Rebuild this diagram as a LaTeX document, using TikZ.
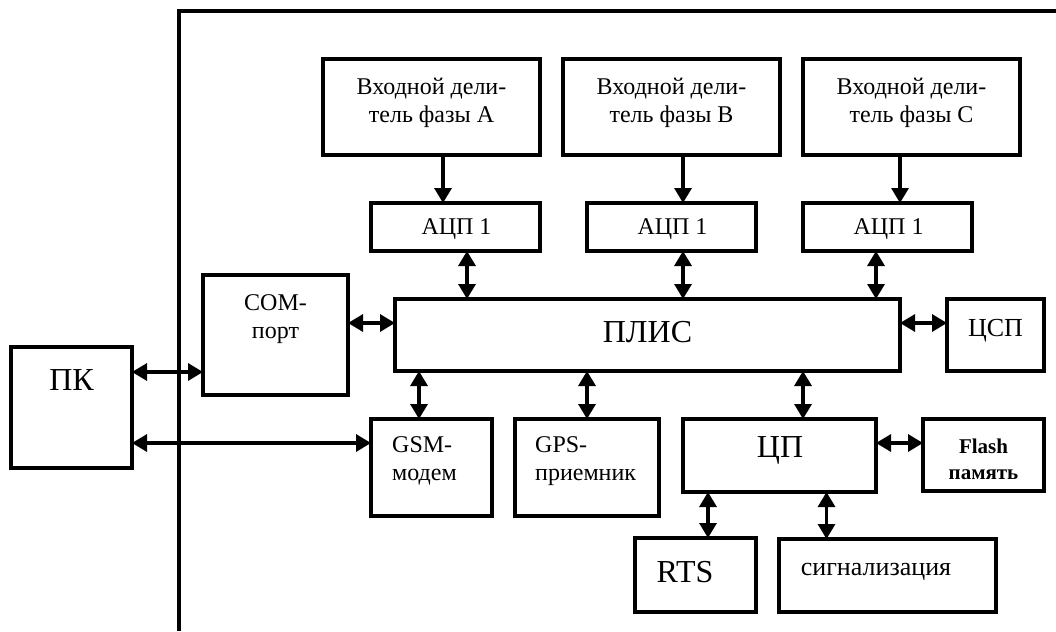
\documentclass[tikz,border=0pt]{standalone}
\usepackage{fontspec}
\setmainfont{Liberation Serif}
\usetikzlibrary{arrows.meta,calc}

\tikzset{
  blok/.style={draw, line width=3.2pt, inner sep=0pt, outer sep=0pt, anchor=north west},
  lbl/.style={align=center, inner sep=0pt, font=\fontsize{24}{28}\selectfont},
  big/.style={inner sep=0pt, font=\fontsize{32}{36}\selectfont},
  mid/.style={inner sep=0pt, font=\fontsize{26}{30}\selectfont},
  arr/.style={line width=3.2pt, -{Triangle[length=15pt,width=17pt]}},
  dbl/.style={line width=3.2pt, {Triangle[length=15pt,width=17pt]}-{Triangle[length=15pt,width=17pt]}},
}

\begin{document}
\begin{tikzpicture}[x=1pt,y=-1pt]
\useasboundingbox (0,0) rectangle (1056,631);
% device frame
\draw[line width=3.2pt] (179,631) -- (179,11) -- (1056,11);

% input dividers and ADCs
\node[blok, minimum width=217pt, minimum height=96pt] (divA) at (323,59) {};
\node[blok, minimum width=217pt, minimum height=96pt] (divB) at (563,59) {};
\node[blok, minimum width=217pt, minimum height=96pt] (divC) at (803,59) {};
\node[lbl] (tdivA) at (431.5,103) {Входной дели-\\тель фазы А};
\node[lbl] (tdivB) at (671.5,103) {Входной дели-\\тель фазы В};
\node[lbl] (tdivC) at (911.5,103) {Входной дели-\\тель фазы С};
\node[blok, minimum width=169pt, minimum height=48pt] (adcA) at (371,203) {};
\node[blok, minimum width=169pt, minimum height=48pt] (adcB) at (587,203) {};
\node[blok, minimum width=169pt, minimum height=48pt] (adcC) at (803,203) {};
\node[lbl] (tadcA) at (456.5,229) {АЦП 1};
\node[lbl] (tadcB) at (672.5,229) {АЦП 1};
\node[lbl] (tadcC) at (888.5,229) {АЦП 1};

% middle row
\node[blok, minimum width=145pt, minimum height=120pt] (com) at (203,275) {};
\node[lbl] (tcom) at (275.5,319) {COM-\\порт};
\node[blok, minimum width=505pt, minimum height=72pt] (plis) at (395,299) {};
\node[big] (tplis) at (647.5,332) {ПЛИС};
\node[blok, minimum width=97pt, minimum height=72pt] (dsp) at (947,299) {};
\node[mid] (tdsp) at (995.5,331) {ЦСП};
\node[blok, minimum width=121pt, minimum height=121pt] (pk) at (11,347) {};
\node[big] (tpk) at (71.5,380) {ПК};

% lower row
\node[blok, minimum width=121pt, minimum height=97pt] (gsm) at (371,419) {};
\node[lbl, align=left, anchor=west] (tgsm) at (392,461) {GSM-\\модем};
\node[blok, minimum width=144pt, minimum height=97pt] (gps) at (515,419) {};
\node[lbl, align=left, anchor=west] (tgps) at (535,461) {GPS-\\приемник};
\node[blok, minimum width=193pt, minimum height=73pt] (cpu) at (683,419) {};
\node[big] (tcpu) at (780,450) {ЦП};
\node[blok, minimum width=121pt, minimum height=72pt] (flash) at (923,419) {};
\node[lbl, font=\fontsize{21}{26}\selectfont\bfseries] (tflash) at (983.5,459) {Flash\\память};
\node[blok, minimum width=121pt, minimum height=74pt] (rts) at (635,538) {};
\node[big] (trts) at (685,572) {RTS};
\node[blok, minimum width=217pt, minimum height=73pt] (sig) at (779,539) {};
\node[mid] (tsig) at (876,572) {сигнализация};

% links
\draw[arr] ([xshift=11.5pt]divA.south) -- ([xshift=11.5pt]divA.south |- adcA.north);
\draw[arr] ([xshift=11.5pt]divB.south) -- ([xshift=11.5pt]divB.south |- adcB.north);
\draw[arr] ([xshift=-11.5pt]divC.south) -- ([xshift=-11.5pt]divC.south |- adcC.north);
\draw[dbl] ([xshift=11.5pt]adcA.south) -- ([xshift=11.5pt]adcA.south |- plis.north);
\draw[dbl] ([xshift=11.5pt]adcB.south) -- ([xshift=11.5pt]adcB.south |- plis.north);
\draw[dbl] ([xshift=-11.5pt]adcC.south) -- ([xshift=-11.5pt]adcC.south |- plis.north);
\draw[dbl] ([yshift=12pt]com.east) -- ([yshift=12pt]com.east -| plis.west);
\draw[dbl] ([yshift=12pt]plis.east) -- ([yshift=12pt]dsp.west);
\draw[dbl] ([yshift=35.5pt]pk.east) -- ([yshift=35.5pt]pk.east -| com.west);
\draw[dbl] ([yshift=-35.5pt]pk.east) -- ([yshift=-35.5pt]pk.east -| gsm.west);
\draw[dbl] ([xshift=-12.5pt]gsm.north |- plis.south) -- ([xshift=-12.5pt]gsm.north);
\draw[dbl] (gps.north |- plis.south) -- (gps.north);
\draw[dbl] ([xshift=23.5pt]cpu.north |- plis.south) -- ([xshift=23.5pt]cpu.north);
\draw[dbl] ([yshift=12.5pt]cpu.east) -- ([yshift=12.5pt]cpu.east -| flash.west);
\draw[dbl] ([xshift=12.5pt]rts.north |- cpu.south) -- ([xshift=12.5pt]rts.north);
\draw[dbl] ([xshift=-61pt]sig.north |- cpu.south) -- ([xshift=-61pt]sig.north);
\end{tikzpicture}
\end{document}
